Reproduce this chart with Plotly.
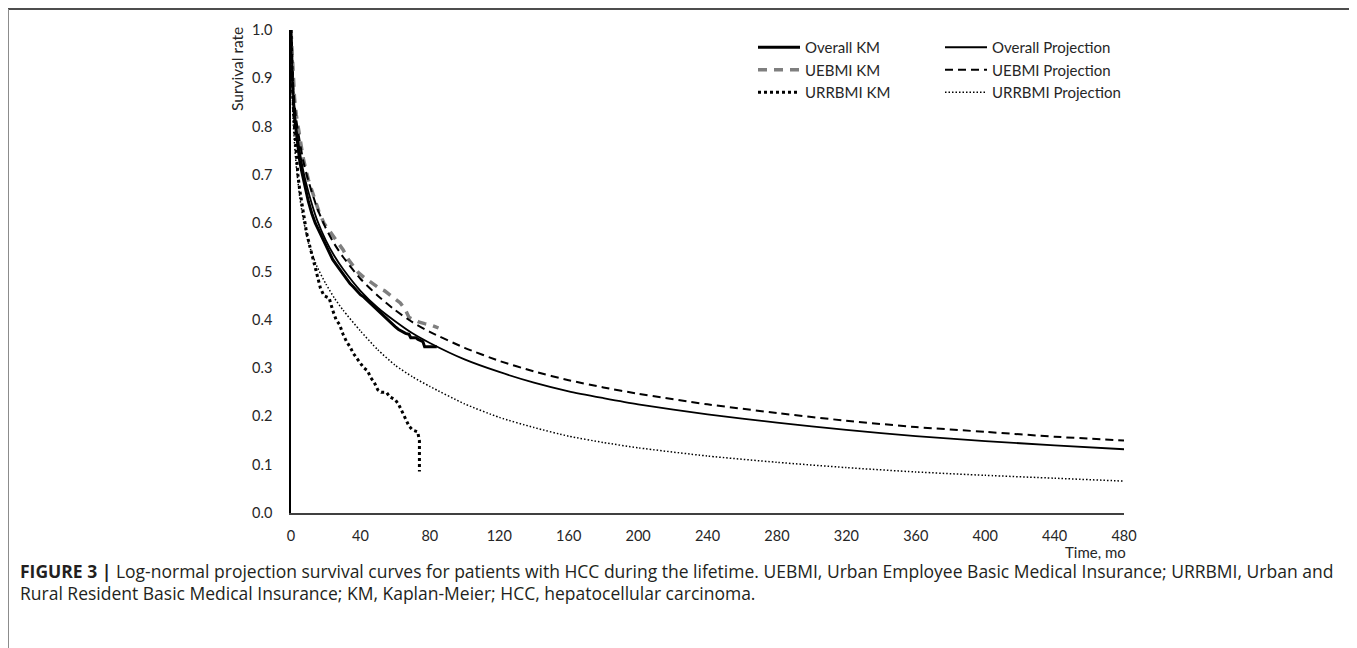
import plotly.graph_objects as go

# ---------------- data ----------------
proj_months = [0, 1, 2, 3, 5, 7, 10, 15, 20, 25, 30, 40, 50, 60, 70, 80, 100, 120, 140, 160,
               180, 200, 240, 280, 320, 360, 400, 440, 480]
overall_proj = [1.0, 0.89, 0.835, 0.80, 0.75, 0.71, 0.665, 0.607, 0.565, 0.532, 0.505, 0.46, 0.425,
                0.397, 0.372, 0.352, 0.318, 0.292, 0.27, 0.252, 0.238, 0.225, 0.204, 0.187, 0.172,
                0.159, 0.149, 0.14, 0.132]
uebmi_proj = [1.0, 0.90, 0.85, 0.815, 0.77, 0.73, 0.688, 0.632, 0.59, 0.557, 0.53, 0.485, 0.45,
              0.42, 0.395, 0.375, 0.342, 0.315, 0.293, 0.275, 0.26, 0.247, 0.225, 0.207, 0.191,
              0.178, 0.168, 0.158, 0.15]
urrbmi_proj = [1.0, 0.83, 0.765, 0.72, 0.655, 0.61, 0.56, 0.51, 0.475, 0.445, 0.42, 0.377, 0.338,
               0.306, 0.282, 0.262, 0.226, 0.198, 0.177, 0.159, 0.146, 0.135, 0.118, 0.105, 0.094,
               0.085, 0.078, 0.072, 0.066]

overall_km_months = [0, 0.5, 1, 2, 3, 4, 5, 6, 8, 10, 12, 14, 16, 18, 20, 22, 24, 26, 28, 30, 32, 34,
                     36, 38, 40, 42, 44, 46, 48, 50, 52, 54, 56, 58, 60, 62, 64, 66, 68, 69, 72, 73,
                     76, 77, 84]
overall_km = [1.0, 0.93, 0.88, 0.82, 0.785, 0.755, 0.73, 0.71, 0.675, 0.645, 0.62, 0.60, 0.585, 0.57,
              0.555, 0.54, 0.525, 0.515, 0.505, 0.495, 0.485, 0.475, 0.468, 0.46, 0.452, 0.447,
              0.44, 0.434, 0.427, 0.42, 0.413, 0.405, 0.398, 0.392, 0.386, 0.38, 0.376, 0.372,
              0.37, 0.363, 0.363, 0.36, 0.355, 0.344, 0.344]

uebmi_km_months = [0, 1, 2, 3, 5, 7, 10, 13, 16, 19, 22, 25, 28, 30, 33, 36, 39, 42, 45, 48, 51, 54,
                   57, 60, 63, 66, 68, 71, 74, 77, 80, 83, 85]
uebmi_km = [1.0, 0.91, 0.86, 0.825, 0.775, 0.735, 0.69, 0.655, 0.625, 0.60, 0.585, 0.57, 0.555,
            0.545, 0.525, 0.51, 0.497, 0.488, 0.48, 0.472, 0.465, 0.46, 0.452, 0.443, 0.435, 0.42,
            0.405, 0.40, 0.395, 0.392, 0.39, 0.386, 0.383]

urrbmi_km_months = [0, 1, 2, 3, 4, 5, 7, 9, 11, 13, 15, 17, 19, 22, 24, 26, 28, 30, 32, 34, 36, 38,
                    40, 42, 44, 46, 48, 50, 52, 55, 57, 60, 62, 64, 66, 68, 70, 73, 74, 74]
urrbmi_km = [1.0, 0.87, 0.80, 0.74, 0.70, 0.67, 0.62, 0.58, 0.55, 0.52, 0.49, 0.465, 0.45, 0.445,
             0.42, 0.40, 0.39, 0.37, 0.355, 0.344, 0.33, 0.32, 0.31, 0.30, 0.295, 0.28, 0.27, 0.255,
             0.25, 0.25, 0.24, 0.235, 0.225, 0.21, 0.195, 0.18, 0.172, 0.168, 0.15, 0.086]

x_ticks = [0, 40, 80, 120, 160, 200, 240, 280, 320, 360, 400, 440, 480]
y_ticks = [0.0, 0.1, 0.2, 0.3, 0.4, 0.5, 0.6, 0.7, 0.8, 0.9, 1.0]
y_tick_labels = [f"{v:.1f}" for v in y_ticks]

caption_line1 = ("<b>FIGURE 3 |</b> Log-normal projection survival curves for patients with HCC during the "
                 "lifetime. UEBMI, Urban Employee Basic Medical Insurance; URRBMI, Urban and")
caption_line2 = ("Rural Resident Basic Medical Insurance; KM, Kaplan-Meier; HCC, hepatocellular carcinoma.")

# ---------------- layout geometry ----------------
OFF = 8                      # page body margin around the figure
W, H = 1357 - OFF, 648 - OFF
# plot-area edges in page pixels
PL, PR, PT, PB = 291, 1124, 30, 513
L, R, T, B = PL - OFF, PR - OFF, PT - OFF, PB - OFF


def px_x(p):   # page pixel -> paper x
    return (p - PL) / (PR - PL)


def px_y(p):   # page pixel -> paper y
    return (PB - p) / (PB - PT)


FONT = "Lato, 'Open Sans', sans-serif"
CAP_FONT = "'Open Sans', 'Liberation Sans', Arial, sans-serif"
TXT = "#262626"

fig = go.Figure()

fig.add_trace(go.Scatter(x=overall_km_months, y=overall_km, mode="lines", name="Overall KM",
                         line=dict(color="black", width=3), legend="legend", legendgroup="a"))
fig.add_trace(go.Scatter(x=uebmi_km_months, y=uebmi_km, mode="lines", name="UEBMI KM",
                         line=dict(color="#7f7f7f", width=3.5, dash="9px,7px"), legend="legend",
                         legendgroup="b"))
fig.add_trace(go.Scatter(x=urrbmi_km_months, y=urrbmi_km, mode="lines", name="URRBMI KM",
                         line=dict(color="black", width=3, dash="3px,3px"), legend="legend",
                         legendgroup="c"))

fig.add_trace(go.Scatter(x=proj_months, y=overall_proj, mode="lines", name="Overall Projection",
                         line=dict(color="black", width=1.8, shape="spline", smoothing=0.6),
                         legend="legend2", legendgroup="d"))
fig.add_trace(go.Scatter(x=proj_months, y=uebmi_proj, mode="lines", name="UEBMI Projection",
                         line=dict(color="black", width=2, dash="8px,5px", shape="spline", smoothing=0.6),
                         legend="legend2", legendgroup="e"))
fig.add_trace(go.Scatter(x=proj_months, y=urrbmi_proj, mode="lines", name="URRBMI Projection",
                         line=dict(color="black", width=1.5, dash="1.5px,2px", shape="spline",
                                   smoothing=0.6),
                         legend="legend2", legendgroup="f"))

legend_common = dict(font=dict(family=FONT, size=15, color=TXT), bgcolor="rgba(0,0,0,0)",
                     borderwidth=0, itemwidth=42, xanchor="left", yanchor="top",
                     xref="container", yref="container", traceorder="grouped", tracegroupgap=0)

fig.update_layout(
    width=W, height=H,
    margin=dict(l=L, r=W - R, t=T, b=H - B, autoexpand=False),
    paper_bgcolor="white", plot_bgcolor="white",
    font=dict(family=FONT, size=15, color=TXT),
    legend=dict(x=(753 - OFF) / W, y=1 - (31 - OFF) / H, **legend_common),
    legend2=dict(x=(940 - OFF) / W, y=1 - (31 - OFF) / H, **legend_common),
    xaxis=dict(range=[0, 480], tickvals=x_ticks, ticktext=[str(v) for v in x_ticks],
               showgrid=False, zeroline=False, showline=True, linecolor="#404040", linewidth=1.5,
               ticks="outside", ticklen=9, tickcolor="rgba(0,0,0,0)",
               tickfont=dict(family=FONT, size=14.5, color=TXT)),
    yaxis=dict(range=[0, 1], tickvals=y_ticks, ticktext=y_tick_labels,
               showgrid=False, zeroline=False, showline=True, linecolor="black", linewidth=1.5,
               ticks="outside", ticklen=14, tickcolor="rgba(0,0,0,0)",
               tickfont=dict(family=FONT, size=14.5, color=TXT)),
    showlegend=True,
)

annotations = [
    dict(text="Survival rate", textangle=-90, xref="paper", yref="paper",
         x=px_x(237), y=px_y(69), showarrow=False, xanchor="center", yanchor="middle",
         font=dict(family=FONT, size=15.5, color=TXT)),
    dict(text="Time, mo", xref="paper", yref="paper", x=px_x(1128), y=px_y(552),
         showarrow=False, xanchor="right", yanchor="middle",
         font=dict(family=FONT, size=15, color=TXT)),
    dict(text=caption_line1, xref="paper", yref="paper", x=px_x(18), y=px_y(571),
         showarrow=False, xanchor="left", yanchor="middle", align="left",
         font=dict(family=CAP_FONT, size=17.5, color="#231f20")),
    dict(text=caption_line2, xref="paper", yref="paper", x=px_x(18), y=px_y(593),
         showarrow=False, xanchor="left", yanchor="middle", align="left",
         font=dict(family=CAP_FONT, size=17.5, color="#231f20")),
]
fig.update_layout(annotations=annotations)

# outer figure frame
frame = [
    dict(type="line", xref="paper", yref="paper", x0=px_x(8), x1=px_x(1354), y0=px_y(9), y1=px_y(9),
         line=dict(color="#4d4d4d", width=2)),
    dict(type="line", xref="paper", yref="paper", x0=px_x(8), x1=px_x(8), y0=px_y(9), y1=px_y(700),
         line=dict(color="#8c8c8c", width=2)),
    dict(type="line", xref="paper", yref="paper", x0=px_x(1353), x1=px_x(1353), y0=px_y(9),
         y1=px_y(700), line=dict(color="#8c8c8c", width=2)),
]
fig.update_layout(shapes=frame)

fig.write_html("out.html", post_script="document.body.style.overflow='hidden';")
